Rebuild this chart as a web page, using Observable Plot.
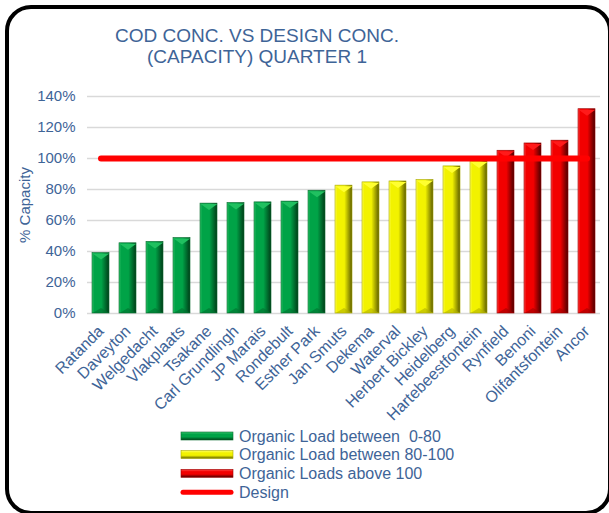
<!DOCTYPE html>
<html><head><meta charset="utf-8">
<script src="https://cdn.jsdelivr.net/npm/d3@7"></script>
<script src="https://cdn.jsdelivr.net/npm/@observablehq/plot@0.6"></script>
<style>
body{margin:0;background:#fff;font-family:"Liberation Sans",Arial,sans-serif;}
#wrap{position:relative;width:609px;height:513px;overflow:hidden;background:#fff;}
#frame{position:absolute;left:5px;top:5px;width:607px;height:510px;box-sizing:border-box;border:4px solid #000;border-radius:26px;}
#title{position:absolute;left:37px;top:25px;width:440px;text-align:center;font-size:19px;line-height:21px;color:#3e6497;}
#chart{position:absolute;left:0;top:80px;}
#legend{position:absolute;left:175px;top:426px;}
</style></head><body>
<div id="wrap"><div id="frame"></div>
<div id="title">COD CONC. VS DESIGN CONC.<br>(CAPACITY) QUARTER 1</div>
<div id="chart"></div><div id="legend"></div></div>
<script>
const stations = ["Ratanda","Daveyton","Welgedacht","Vlakplaats","Tsakane","Carl Grundlingh","JP Marais","Rondebult","Esther Park","Jan Smuts","Dekema","Waterval","Herbert Bickley","Heidelberg","Hartebeestfontein","Rynfield","Benoni","Olifantsfontein","Ancor"];
const capacity = [39,45.3,46.2,48.7,70.9,71.3,71.7,72.2,79.2,82.5,84.6,85.2,86.1,94.9,98.1,105,109.7,111.5,131.8];
const groups = ["low","low","low","low","low","low","low","low","low","mid","mid","mid","mid","mid","mid","high","high","high","high"];
const designLevel = 100;
const yTicks = [0,20,40,60,80,100,120,140];
const groupKeys = ["low","mid","high"];
const legendLabels = ["Organic Load between  0-80","Organic Load between 80-100","Organic Loads above 100","Design"];

const palette = {
  low:  {light:"#35c46c", main:"#00a347", dark:"#003d18", edge:"#0b6b30", tri:"#20c060", base:"#00702e"},
  mid:  {light:"#ffff66", main:"#f2f200", dark:"#5e5e00", edge:"#a8a800", tri:"#ffff30", base:"#b0b000"},
  high: {light:"#ff5050", main:"#f20000", dark:"#4d0000", edge:"#990000", tri:"#ff1a1a", base:"#a00000"}
};

const data = stations.map((s,i)=>({station:s, value:capacity[i], group:groups[i]}));

const marginLeft = 87, marginRight = 9, width = 609;
const step = (width - marginLeft - marginRight) / stations.length;
const bw = step * (1 - 0.38);

const triTop = {draw(ctx){ const h = bw/2; ctx.moveTo(-h,0); ctx.lineTo(h,0); ctx.lineTo(0,6); ctx.closePath(); }};
const triBot = {draw(ctx){ const h = bw/2; ctx.moveTo(-h,0); ctx.lineTo(h,0); ctx.lineTo(0,-5); ctx.closePath(); }};

const marks = [
  Plot.gridY(yTicks, {stroke:"#d9d9d9", strokeOpacity:1, strokeWidth:1.5}),
  Plot.axisY({ticks:yTicks, tickFormat:d=>d+"%", tickSize:0, tickPadding:12, fontSize:15, label:"% Capacity", labelAnchor:"center", labelArrow:"none", labelOffset:68}),
  Plot.axisX({tickRotate:-45, tickSize:0, tickPadding:15, fontSize:16, label:null})
];
for (const g of groupKeys) {
  const sub = data.filter(d=>d.group===g);
  const p = palette[g];
  marks.push(Plot.barY(sub, {x:"station", y:"value", fill:`url(#grad-${g})`, stroke:p.edge, strokeWidth:0.6}));
  marks.push(Plot.dot(sub, {x:"station", y:"value", symbol:triTop, r:5, fill:p.tri, stroke:"none", dy:0.5}));
  marks.push(Plot.dot(sub, {x:"station", y:()=>0, symbol:triBot, r:5, fill:p.base, fillOpacity:0.6, stroke:"none", dy:-0.5}));
}
marks.push(Plot.lineY(stations, {x:d=>d, y:()=>designLevel, stroke:"#ff0000", strokeWidth:6, strokeLinecap:"round"}));

const plot = Plot.plot({
  width, height:345,
  marginTop:16, marginBottom:112, marginLeft, marginRight,
  x:{domain:stations, paddingInner:0.38, paddingOuter:0.17},
  y:{domain:[0,140]},
  style:{fontFamily:"'Liberation Sans', Arial, sans-serif", color:"#3e6497", background:"transparent"},
  marks
});

// gradients
const defs = document.createElementNS("http://www.w3.org/2000/svg","defs");
defs.innerHTML = groupKeys.map(g=>{
  const p = palette[g];
  return `<linearGradient id="grad-${g}" x1="0" x2="1" y1="0" y2="0">
    <stop offset="0" stop-color="${p.light}"/>
    <stop offset="0.12" stop-color="${p.main}"/>
    <stop offset="0.55" stop-color="${p.main}"/>
    <stop offset="1" stop-color="${p.dark}"/>
  </linearGradient>
  <linearGradient id="lgrad-${g}" x1="0" x2="0" y1="0" y2="1">
    <stop offset="0" stop-color="${p.light}"/>
    <stop offset="0.3" stop-color="${p.main}"/>
    <stop offset="0.6" stop-color="${p.main}"/>
    <stop offset="1" stop-color="${p.dark}"/>
  </linearGradient>`;
}).join("");
plot.insertBefore(defs, plot.firstChild);
document.getElementById("chart").appendChild(plot);

// legend
const lg = d3.select("#legend").append("svg").attr("width",300).attr("height",80)
  .style("font-family","'Liberation Sans', Arial, sans-serif");
lg.append(()=>defs.cloneNode(true));
const rowsY = [10, 28.5, 47.3, 66.3];
legendLabels.forEach((lab,i)=>{
  if (i<3) {
    const g = groupKeys[i];
    lg.append("rect").attr("x",6).attr("y",rowsY[i]-4).attr("width",52).attr("height",8)
      .attr("fill",`url(#lgrad-${g})`).attr("stroke",palette[g].edge).attr("stroke-width",0.6);
  } else {
    lg.append("line").attr("x1",8).attr("x2",56).attr("y1",rowsY[i]).attr("y2",rowsY[i])
      .attr("stroke","#ff0000").attr("stroke-width",5).attr("stroke-linecap","round");
  }
  lg.append("text").attr("x",64).attr("y",rowsY[i]).attr("dy","0.35em")
    .attr("font-size",16).attr("fill","#3e6497").style("white-space","pre").text(lab);
});
</script>
</body></html>
